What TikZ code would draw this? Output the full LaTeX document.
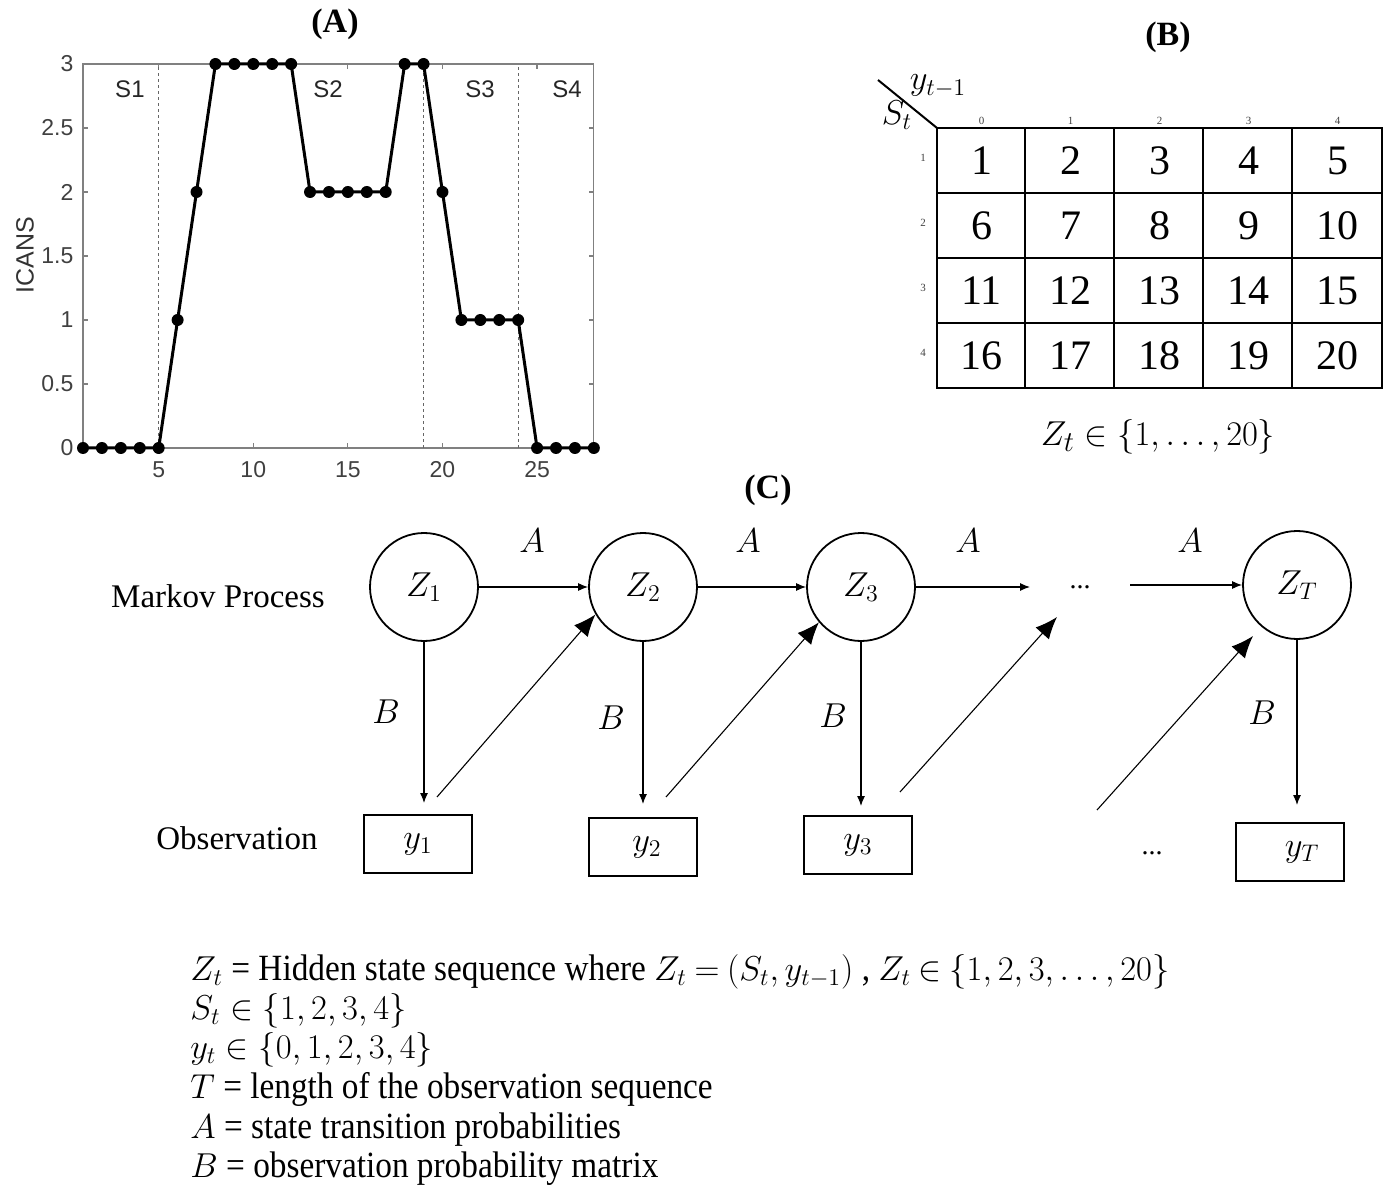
\documentclass[tikz,border=0pt]{standalone}
\usepackage{fontspec}
\setmainfont{Liberation Serif}
\setsansfont{Liberation Sans}
\newfontfamily\condserif{Liberation Serif}[FakeStretch=0.9]
\usetikzlibrary{arrows.meta,calc}
\begin{document}
\begin{tikzpicture}[x=0.5pt,y=-0.5pt,
  paneltitle/.style={font=\bfseries\fontsize{17}{20}\selectfont, inner sep=0pt},
  axisline/.style={draw=black!50, line width=0.6pt},
  ticklab/.style={font=\sffamily\fontsize{11.5}{12}\selectfont, text=black!75, inner sep=1pt},
  seglab/.style={font=\sffamily\fontsize{12}{13}\selectfont, text=black!85, inner sep=0pt},
  vline/.style={draw=black!60, line width=0.5pt, dash pattern=on 1.5pt off 1.5pt},
  tablegrid/.style={draw=black, line width=1.1pt},
  cellnum/.style={font=\fontsize{21}{24}\selectfont, inner sep=0pt},
  hdrnum/.style={font=\fontsize{5.5}{6}\selectfont, text=black!75, inner sep=0pt},
  state/.style={circle, draw, line width=0.9pt, minimum size=54pt, inner sep=0pt, font=\fontsize{18}{20}\selectfont},
  obs/.style={rectangle, draw, line width=0.9pt, minimum width=54pt, minimum height=29pt, inner sep=0pt, font=\fontsize{18}{20}\selectfont},
  edgelab/.style={font=\fontsize{16}{18}\selectfont, inner sep=0pt},
  rowlab/.style={font=\fontsize{16.5}{18}\selectfont, inner sep=0pt},
  smallarrow/.style={-{Latex[length=5pt,width=4pt]}, line width=0.55pt},
  bigarrow/.style={-{Latex[length=11pt,width=9pt]}, line width=0.55pt},
  legend/.style={font=\condserif\fontsize{18.5}{21}\selectfont, anchor=base west, inner sep=0pt}
]
\useasboundingbox (0,0) rectangle (1390,1186);

% ---------------- Panel A ----------------
\node[paneltitle] (tA) at (335,24) {(A)};
\node[font=\sffamily\fontsize{12.5}{13}\selectfont, text=black!80, rotate=90] (ylab) at (25,255) {ICANS};
\begin{scope}[shift={(64.08,448)}, x=9.46pt, y=64pt]
  \draw[axisline] (1,0) rectangle (28,3);
  \foreach \v/\t in {0/0,0.5/0.5,1/1,1.5/1.5,2/2,2.5/2.5,3/3}{
    \draw[axisline] (1,\v) -- ++(0.27,0);
    \draw[axisline] (28,\v) -- ++(-0.27,0);
    \node[ticklab, anchor=east] at (0.62,\v) {\t};
  }
  \foreach \u in {5,10,15,20,25}{
    \draw[axisline] (\u,0) -- ++(0,0.04);
    \draw[axisline] (\u,3) -- ++(0,-0.04);
    \node[ticklab, anchor=north] at (\u,-0.09) {\u};
  }
  \foreach \u in {5,19,24}{ \draw[vline] (\u,0) -- (\u,3); }
  \draw[line width=1.5pt, line join=round] plot coordinates {(1,0) (2,0) (3,0) (4,0) (5,0) (6,1) (7,2) (8,3) (9,3) (10,3) (11,3) (12,3) (13,2) (14,2) (15,2) (16,2) (17,2) (18,3) (19,3) (20,2) (21,1) (22,1) (23,1) (24,1) (25,0) (26,0) (27,0) (28,0)};
  \foreach \p in {(1,0),(2,0),(3,0),(4,0),(5,0),(6,1),(7,2),(8,3),(9,3),(10,3),(11,3),(12,3),(13,2),(14,2),(15,2),(16,2),(17,2),(18,3),(19,3),(20,2),(21,1),(22,1),(23,1),(24,1),(25,0),(26,0),(27,0),(28,0)}{
    \fill \p circle (3pt);
  }
  \node[seglab] (s1) at (3.48,2.80) {S1};
  \node[seglab] (s2) at (13.95,2.80) {S2};
  \node[seglab] (s3) at (21.99,2.80) {S3};
  \node[seglab] (s4) at (26.58,2.80) {S4};
\end{scope}

% ---------------- Panel B ----------------
\node[paneltitle] (tB) at (1168,37) {(B)};
\draw[tablegrid] (937,128) rectangle (1382,388);
\foreach \x in {1025,1114,1203,1292}{ \draw[tablegrid] (\x,128) -- (\x,388); }
\foreach \y in {193,258,323}{ \draw[tablegrid] (937,\y) -- (1382,\y); }
\foreach \r in {1,...,4}{
  \foreach \c in {0,...,4}{
    \pgfmathtruncatemacro{\val}{(\r-1)*5+\c+1}
    \node[cellnum] (cell-\r-\c) at ({937+(\c+0.5)*89},{128+(\r-0.5)*65}) {\val};
  }
}
\foreach \c in {0,...,4}{ \node[hdrnum] (col-\c) at ({937+(\c+0.5)*89},121) {\c}; }
\foreach \r in {1,...,4}{ \node[hdrnum] (row-\r) at (923,{128+(\r-0.5)*65-3}) {\r}; }
\coordinate (diagA) at (878,80);
\coordinate (diagB) at (937,128);
\draw[line width=1pt] (diagA) -- (diagB);
\node[font=\fontsize{17}{18}\selectfont, inner sep=0pt] (ytm1) at (938,86) {$y_{t-1}$};
\node[font=\fontsize{17}{18}\selectfont, inner sep=0pt] (Stl) at (897,115) {$S_t$};
\node[font=\fontsize{19}{22}\selectfont, inner sep=0pt] (Zset) at (1158,437) {$Z_t \in \{1, \dots, 20\}$};

% ---------------- Panel C ----------------
\node[paneltitle] (tC) at (768,490) {(C)};
\node[rowlab] (mp) at (218,596) {Markov Process};
\node[rowlab] (ob) at (237,838) {Observation};

\node[state] (Z1) at (424,587) {$Z_1$};
\node[state] (Z2) at (643,587) {$Z_2$};
\node[state] (Z3) at (861,587) {$Z_3$};
\node[state] (ZT) at (1297,585) {$Z_T$};
\node[font=\fontsize{14}{16}\selectfont, inner sep=0pt] (dotsA) at (1080,587) {...};

\node[obs] (y1) at (418,844) {$y_1$};
\node[obs] (y2) at (643,847) {\hspace{4pt}$y_2$};
\node[obs] (y3) at (858,845) {$y_3$};
\node[obs] (yT) at (1290,852) {\hspace{12pt}$y_T$};
\node[font=\fontsize{14}{16}\selectfont, inner sep=0pt] (dotsB) at (1152,853) {...};

\coordinate (hA) at (1030,587);
\coordinate (hB) at (1130,585);
\draw[smallarrow] (Z1.east) -- (Z2.west);
\draw[smallarrow] (Z2.east) -- (Z3.west);
\draw[smallarrow] (Z3.east) -- (hA);
\draw[smallarrow] (hB) -- (ZT.west);

\node[edgelab] (a1) at (532,541) {$A$};
\node[edgelab] (a2) at (748,541) {$A$};
\node[edgelab] (a3) at (968,541) {$A$};
\node[edgelab] (a4) at (1190,541) {$A$};

\coordinate (e1) at (424,803);
\coordinate (e2) at (643,804);
\coordinate (e3) at (861,806);
\coordinate (eT) at (1297,805);
\draw[smallarrow] (Z1.south) -- (e1);
\draw[smallarrow] (Z2.south) -- (e2);
\draw[smallarrow] (Z3.south) -- (e3);
\draw[smallarrow] (ZT.south) -- (eT);

\node[edgelab] (b1) at (386,712) {$B$};
\node[edgelab] (b2) at (611,718) {$B$};
\node[edgelab] (b3) at (833,716) {$B$};
\node[edgelab] (b4) at (1262,713) {$B$};

\coordinate (d1) at (437,797);
\coordinate (d2) at (666,797);
\coordinate (d3) at (900,792);
\coordinate (d3e) at (1057,617);
\coordinate (d4) at (1097,810);
\coordinate (d4e) at (1253,636);
\draw[bigarrow] (d1) -- (Z2.210);
\draw[bigarrow] (d2) -- (Z3.220);
\draw[bigarrow] (d3) -- (d3e);
\draw[bigarrow] (d4) -- (d4e);

% ---------------- Legend ----------------
\node[legend] (l1) at (190,980) {\medmuskip=3mu\thickmuskip=4mu$Z_t$ = Hidden state sequence where $Z_t = (S_t, y_{t-1})$ , $Z_t \in \{1,2,3,\ldots,20\}$};
\node[legend] (l2) at (190,1019) {$S_t \in \{1, 2, 3, 4\}$};
\node[legend] (l3) at (190,1058) {$y_t \in \{0, 1, 2, 3, 4\}$};
\node[legend] (l4) at (190,1098) {$T$ = length of the observation sequence};
\node[legend] (l5) at (190,1138) {$A$ = state transition probabilities};
\node[legend] (l6) at (190,1177) {$B$ = observation probability matrix};
\end{tikzpicture}
\end{document}
